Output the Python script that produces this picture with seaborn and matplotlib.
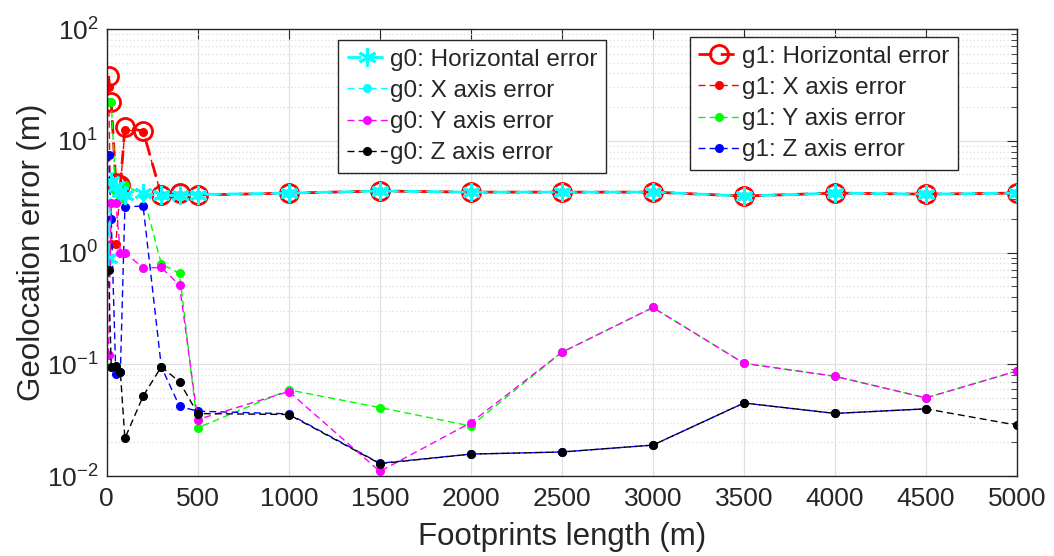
import numpy as np
import pandas as pd
import matplotlib
matplotlib.use("Agg")
import matplotlib.pyplot as plt
import seaborn as sns
from matplotlib.ticker import LogLocator, NullFormatter

# Footprint lengths (m)
footprints = [10, 25, 50, 75, 100, 200, 300, 400, 500, 1000, 1500, 2000,
              2500, 3000, 3500, 4000, 4500, 5000]

# g0 errors (m)
g0_horizontal = [0.9, 4.4, 3.9, 3.5, 3.3, 3.38, 3.25, 3.25, 3.3, 3.4, 3.55,
                 3.47, 3.47, 3.47, 3.2, 3.4, 3.33, 3.4]
g0_x = [0.85, 4.3, 3.8, 3.4, 3.2, 3.3, 3.2, 3.2, 3.3, 3.4, 3.55,
        3.47, 3.47, 3.47, 3.2, 3.4, 3.33, 3.4]
g0_y = [0.12, 2.8, 2.8, 1.0, 1.0, 0.725, 0.735, 0.51, 0.032, 0.057, 0.011,
        0.030, 0.128, 0.322, 0.102, 0.078, 0.050, 0.087]
g0_z = [0.7, 0.095, 0.096, 0.085, 0.0217, 0.0518, 0.095, 0.0696, 0.0362,
        0.0355, 0.0129, 0.0157, 0.0164, 0.0189, 0.045, 0.0363, 0.0399, 0.0285]

# g1 errors (m)
g1_horizontal = [38, 22, 4.2, 4.0, 13.2, 12.2, 3.27, 3.4, 3.27, 3.4, 3.55,
                 3.47, 3.47, 3.47, 3.2, 3.4, 3.33, 3.4]
g1_x = [30, 1.2, 1.2, 3.8, 12.5, 12.0, 3.25, 3.3, 3.27, 3.4, 3.55,
        3.47, 3.47, 3.47, 3.2, 3.4, 3.33, 3.4]
g1_y = [22, 22, 3.5, 3.0, 4.0, 3.3, 0.79, 0.65, 0.027, 0.059, 0.041,
        0.028, 0.128, 0.322, 0.102, 0.078, 0.050, 0.087]
g1_z = [7.5, 2.0, 0.081, 0.085, 2.57, 2.6, 0.095, 0.042, 0.038, 0.036, 0.013,
        0.0157, 0.0164, 0.0189, 0.045, 0.0363, 0.0399, np.nan]

x_ticks = [0, 500, 1000, 1500, 2000, 2500, 3000, 3500, 4000, 4500, 5000]

sns.set_style("white")
plt.rcParams["font.family"] = ["Liberation Sans", "DejaVu Sans"]
plt.rcParams["mathtext.fontset"] = "custom"
plt.rcParams["mathtext.rm"] = "Liberation Sans"
plt.rcParams["mathtext.it"] = "Liberation Sans:italic"

W, H = 1054, 556
AX_L, AX_R, AX_T, AX_B = 106.7, 1017, 29, 476

fig = plt.figure(figsize=(W / 100, H / 100), dpi=100)
ax = fig.add_axes([AX_L / W, 1 - AX_B / H, (AX_R - AX_L) / W, (AX_B - AX_T) / H])

DASH = (0, (5, 3))
TEXT = "#262626"


def draw(values, color, marker, ms, lw, mfc=None, mew=1.0, label=None):
    df = pd.DataFrame({"x": footprints, "y": values}).dropna()
    sns.lineplot(data=df, x="x", y="y", ax=ax, color=color, marker=marker,
                 markersize=ms, linewidth=lw, linestyle=DASH,
                 markerfacecolor=color if mfc is None else mfc,
                 markeredgecolor=color, markeredgewidth=mew,
                 label=label, legend=False, sort=False, estimator=None)
    return ax.lines[-1]


h1 = draw(g1_horizontal, "#ff0000", "o", 13, 2.0, mfc="none", mew=2.0,
          label="g1: Horizontal error")
x1 = draw(g1_x, "#ff0000", "o", 5.5, 1.0, label="g1: X axis error")
y1 = draw(g1_y, "#00ff00", "o", 5.5, 1.0, label="g1: Y axis error")
z1 = draw(g1_z, "#0000ff", "o", 5.5, 1.0, label="g1: Z axis error")

h0 = draw(g0_horizontal, "#00ffff", (6, 2, 0), 13, 2.0, mew=2.0,
          label="g0: Horizontal error")
x0 = draw(g0_x, "#00ffff", "o", 5.5, 1.0, label="g0: X axis error")
y0 = draw(g0_y, "#ff00ff", "o", 5.5, 1.0, label="g0: Y axis error")
z0 = draw(g0_z, "#000000", "o", 5.5, 1.0, label="g0: Z axis error")

ax.set_yscale("log")
ax.set_ylim(1e-2, 1e2)
ax.set_xlim(0, 5000)
ax.set_xticks(x_ticks)
ax.yaxis.set_major_locator(LogLocator(base=10, numticks=10))
ax.yaxis.set_minor_locator(LogLocator(base=10, subs=np.arange(2, 10), numticks=20))
ax.yaxis.set_minor_formatter(NullFormatter())

ax.grid(True, which="major", color="#e0e0e0", linestyle="-", linewidth=0.9)
ax.grid(True, which="minor", axis="y", color="#dcdcdc", linestyle=(0, (1, 2)),
        linewidth=0.9)
ax.set_axisbelow(True)

for s in ax.spines.values():
    s.set_color(TEXT)
    s.set_linewidth(1.0)
ax.tick_params(which="both", direction="in", top=True, right=True,
               colors=TEXT, labelcolor=TEXT)
ax.tick_params(which="major", length=7, labelsize=19)
ax.tick_params(which="minor", length=4)
ax.tick_params(axis="x", pad=8)
ax.tick_params(axis="y", pad=6)

ax.set_xlabel("Footprints length (m)", fontsize=22.5, color=TEXT, labelpad=8)
ax.set_ylabel("Geolocation error (m)", fontsize=22.5, color=TEXT, labelpad=0)

leg_kw = dict(fontsize=17.5, frameon=True, fancybox=False, framealpha=1,
              edgecolor=TEXT, handlelength=1.7, handletextpad=0.1,
              borderpad=0.35, labelspacing=0.38, borderaxespad=0)
AXW, AXH = AX_R - AX_L, AX_B - AX_T
leg0 = ax.legend([h0, x0, y0, z0], [l.get_label() for l in (h0, x0, y0, z0)],
                 loc="upper left",
                 bbox_to_anchor=((338 - AX_L) / AXW, (AX_B - 40) / AXH),
                 **leg_kw)
leg0.get_frame().set_linewidth(1.0)
ax.add_artist(leg0)
leg1 = ax.legend([h1, x1, y1, z1], [l.get_label() for l in (h1, x1, y1, z1)],
                 loc="upper right",
                 bbox_to_anchor=((958 - AX_L) / AXW, (AX_B - 37) / AXH),
                 **leg_kw)
leg1.get_frame().set_linewidth(1.0)

fig.savefig("out.png", dpi=100)
